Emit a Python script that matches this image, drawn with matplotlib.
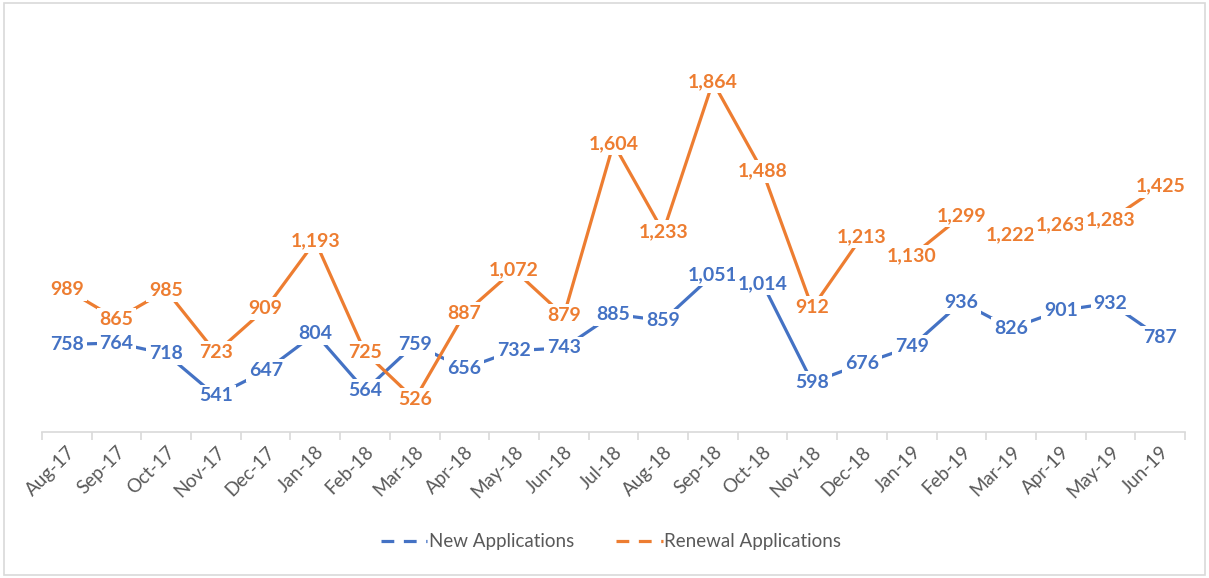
import matplotlib.pyplot as plt
from matplotlib.lines import Line2D
from matplotlib.patches import Rectangle

months = ['Aug-17', 'Sep-17', 'Oct-17', 'Nov-17', 'Dec-17', 'Jan-18', 'Feb-18', 'Mar-18',
          'Apr-18', 'May-18', 'Jun-18', 'Jul-18', 'Aug-18', 'Sep-18', 'Oct-18', 'Nov-18',
          'Dec-18', 'Jan-19', 'Feb-19', 'Mar-19', 'Apr-19', 'May-19', 'Jun-19']
new_apps = [758, 764, 718, 541, 647, 804, 564, 759, 656, 732, 743, 885,
            859, 1051, 1014, 598, 676, 749, 936, 826, 901, 932, 787]
renewal_apps = [989, 865, 985, 723, 909, 1193, 725, 526, 887, 1072, 879, 1604,
                1233, 1864, 1488, 912, 1213, 1130, 1299, 1222, 1263, 1283, 1425]

blue = '#4472C4'
orange = '#ED7D31'
font = ['Lato', 'DejaVu Sans']
plt.rcParams['font.family'] = font

fig = plt.figure(figsize=(12.09, 5.78), dpi=100)
ax = fig.add_axes([42 / 1209, 146 / 578, 1143 / 1209, 412 / 578])

x = list(range(len(months)))
ax.plot(x, new_apps, color=blue, lw=2.3, zorder=2)
ax.plot(x, renewal_apps, color=orange, lw=2.3, zorder=2)

for xi, v in zip(x, new_apps):
    ax.text(xi, v, f'{v:,}', ha='center', va='center', color=blue, fontsize=14,
            fontweight='bold', zorder=4,
            bbox=dict(boxstyle='square,pad=0.15', fc='white', ec='none'))
for xi, v in zip(x, renewal_apps):
    ax.text(xi, v, f'{v:,}', ha='center', va='center', color=orange, fontsize=14,
            fontweight='bold', zorder=4,
            bbox=dict(boxstyle='square,pad=0.15', fc='white', ec='none'))

ax.set_xlim(-0.5, len(months) - 0.5)
ax.set_ylim(389, 2125)
ax.set_yticks([])
ax.set_xticks(x)
ax.set_xticklabels(months, rotation=45, ha='right', rotation_mode='anchor',
                   color='#595959', fontsize=13.5)
ax.tick_params(axis='x', which='major', length=0, pad=8)
ax.set_xticks([i - 0.5 for i in range(len(months) + 1)], minor=True)
ax.tick_params(axis='x', which='minor', length=6, color='#D9D9D9', width=1.2)
for s in ['top', 'left', 'right']:
    ax.spines[s].set_visible(False)
ax.spines['bottom'].set_color('#D9D9D9')
ax.spines['bottom'].set_linewidth(1.2)

handles = [Line2D([], [], color=blue, lw=2.3, linestyle=(0, (4, 3))),
           Line2D([], [], color=orange, lw=2.3, linestyle=(0, (4, 3)))]
fig.legend(handles, ['New Applications', 'Renewal Applications'], loc='center',
           bbox_to_anchor=(611 / 1209, 1 - 542 / 578), ncol=2, frameon=False,
           fontsize=13.5, labelcolor='#595959', handlelength=2.5, handletextpad=0.1,
           columnspacing=2.2)

fig.patches.append(Rectangle((4 / 1209, 3 / 578), 1201 / 1209, 572 / 578,
                             transform=fig.transFigure, fill=False,
                             ec='#D9D9D9', lw=1.2))

fig.savefig('out.png', dpi=100)
